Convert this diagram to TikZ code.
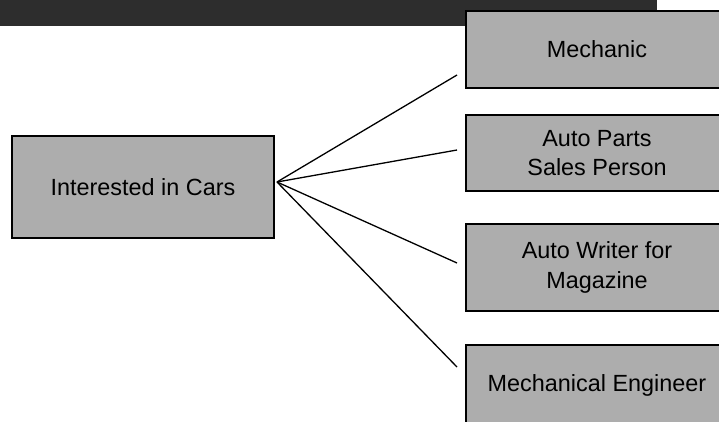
\documentclass[tikz,border=0pt]{standalone}
\usepackage{fontspec}
\setmainfont{Liberation Sans}
\definecolor{grisc}{HTML}{ADADAD}
\definecolor{barra}{HTML}{2D2D2D}
\tikzstyle{cajagris} = [rectangle, draw=black, line width=2pt, fill=grisc, minimum width=262pt, text centered, align=center, inner sep=0pt]
\tikzstyle{linea} = [line width=1.3pt]
\begin{document}
\begin{tikzpicture}[x=1pt, y=-1pt, font=\fontsize{23.4}{29.3}\selectfont]
    	\useasboundingbox (0,0) rectangle (719,422);
    	\clip (0,0) rectangle (719,422);
    	% Barra
    	\fill[barra] (0,0) rectangle (657,26);
    	% Cuadros
    	\node (cars) [cajagris, minimum height=102pt] at (143,187) {Interested in Cars};
    	\node (mech) [cajagris, minimum height=77pt] at (597,49.5) {Mechanic};
    	\node (parts) [cajagris, minimum height=76pt] at (597,153) {Auto Parts\\Sales Person};
    	\node (writer) [cajagris, minimum height=87pt] at (597,267.5) {Auto Writer for\\Magazine};
    	\node (eng) [cajagris, minimum height=80pt] at (597,385) {Mechanical Engineer};
    	% Puntos
    	\coordinate (hub) at (277,182);
    	\coordinate (emech) at (457,75);
    	\coordinate (eparts) at (457,150);
    	\coordinate (ewriter) at (457,263);
    	\coordinate (eeng) at (457,367);
    	% Lineas
        \draw[linea] (hub) -- (emech);
        \draw[linea] (hub) -- (eparts);
        \draw[linea] (hub) -- (ewriter);
        \draw[linea] (hub) -- (eeng);
    \end{tikzpicture}
\end{document}
